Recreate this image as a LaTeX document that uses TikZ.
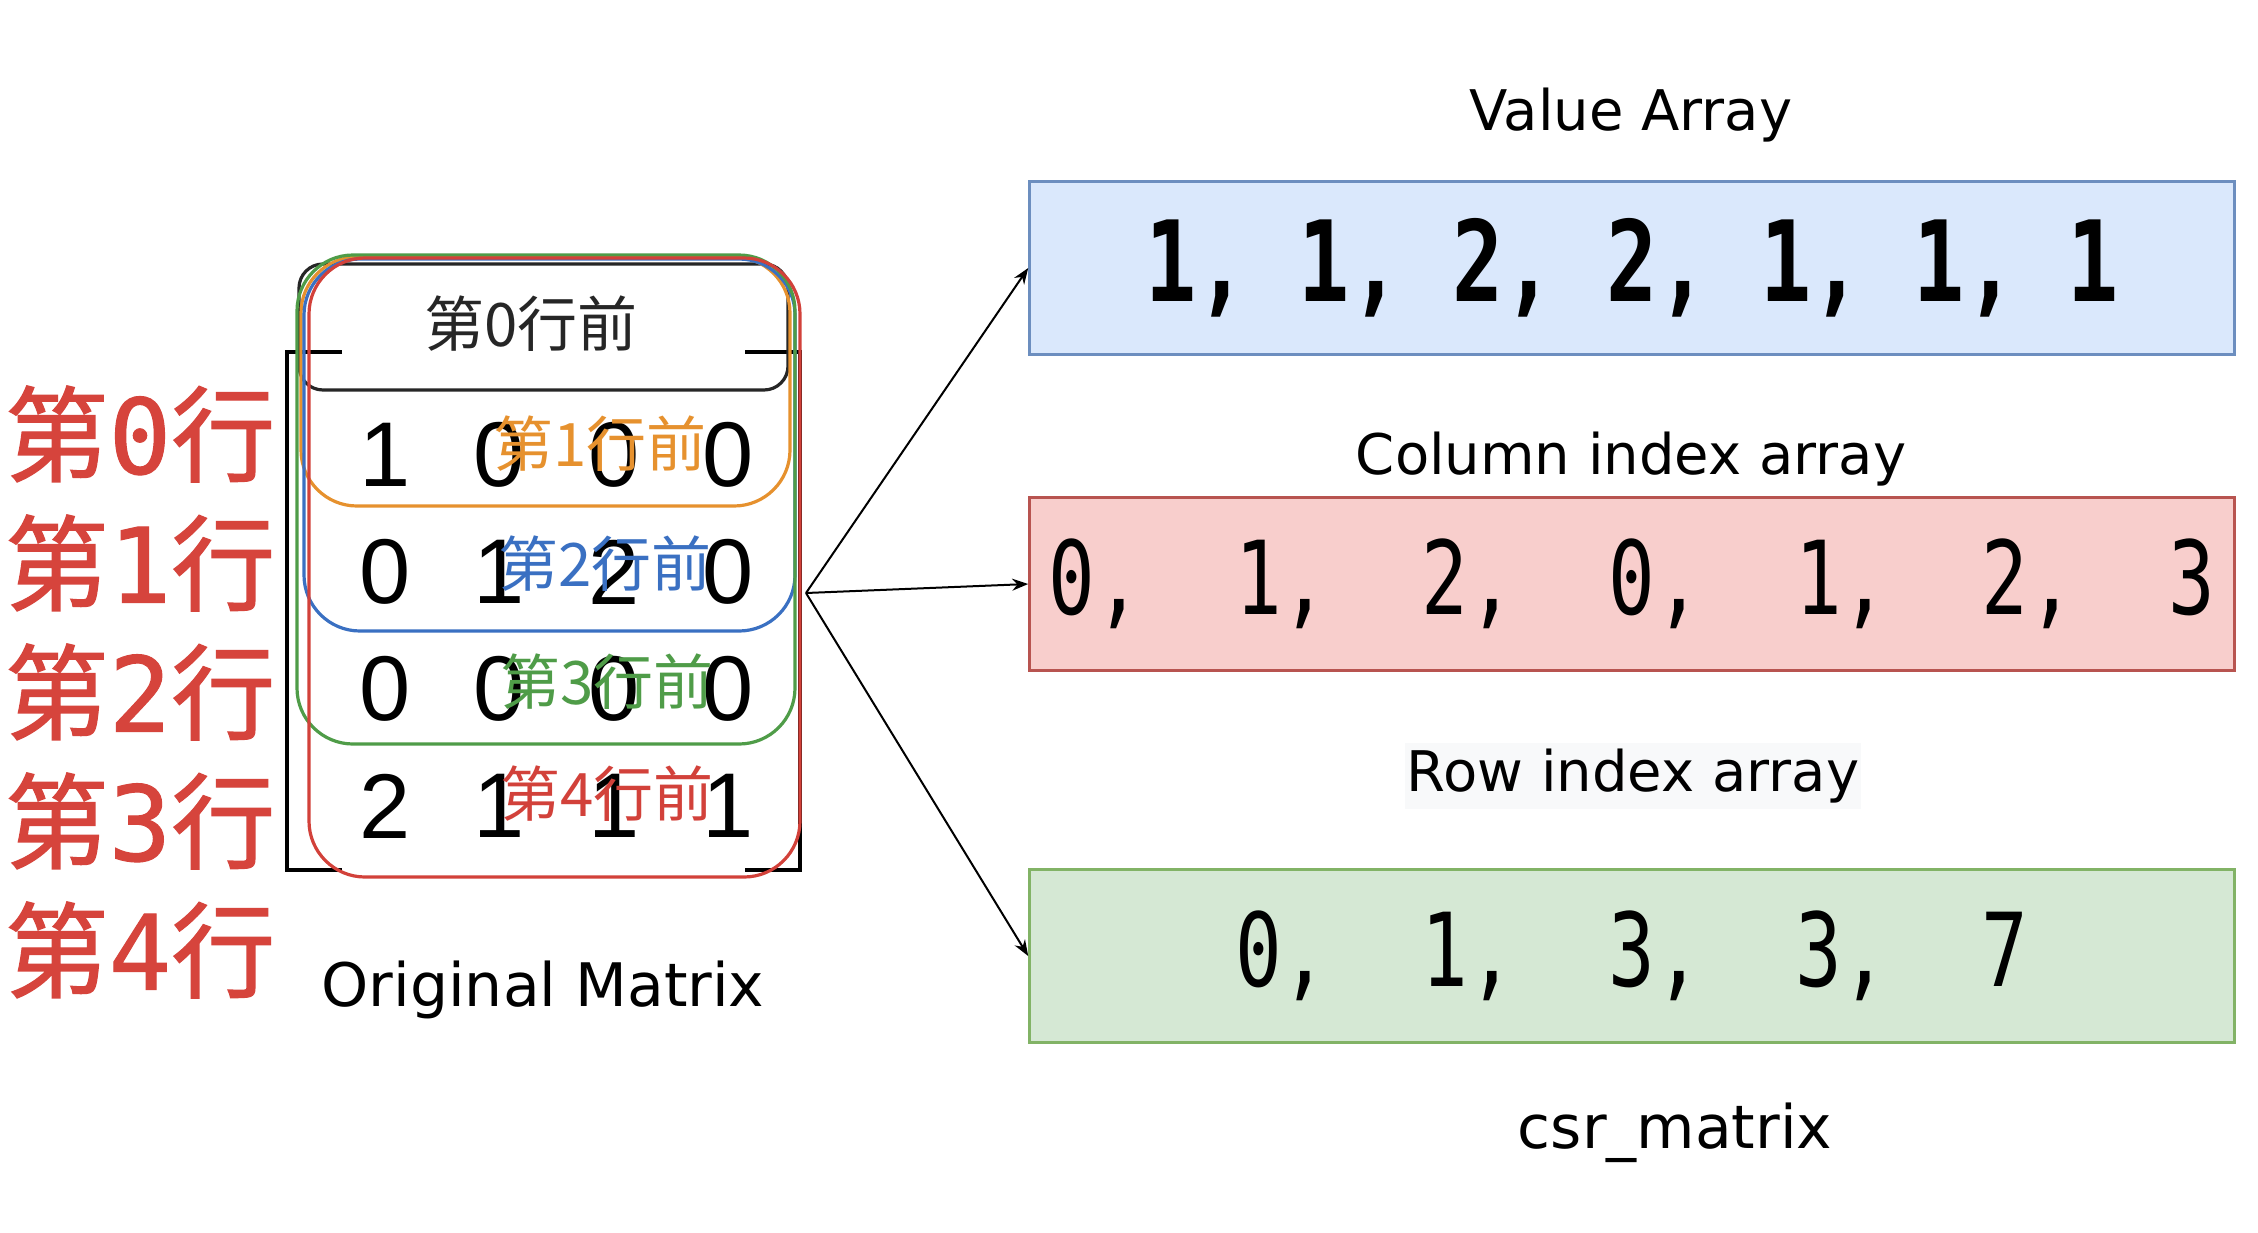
\documentclass[tikz,border=0pt]{standalone}
\usepackage{fontspec}
\setmainfont{DejaVu Sans}
\newfontfamily\cjkfont{Noto Sans CJK SC}
\newfontfamily\cjkmid[FakeBold=1.2]{Noto Sans CJK SC}
\newfontfamily\rowdigit[FakeBold=1]{DejaVu Sans Mono}
\newfontfamily\matfont{Liberation Sans}
\newfontfamily\arrfont[FakeStretch=0.76]{DejaVu Sans Mono}
\usetikzlibrary{arrows.meta}

\definecolor{rowred}{HTML}{D6443C}
\definecolor{preorange}{HTML}{E6912E}
\definecolor{preblue}{HTML}{3A70C2}
\definecolor{pregreen}{HTML}{4F9C48}
\definecolor{prered}{HTML}{D2413A}
\definecolor{valfill}{HTML}{DAE8FC}
\definecolor{valdraw}{HTML}{6C8EBF}
\definecolor{colfill}{HTML}{F8CECC}
\definecolor{coldraw}{HTML}{B85450}
\definecolor{rowfill}{HTML}{D5E8D4}
\definecolor{rowdraw}{HTML}{82B366}

\begin{document}
\begin{tikzpicture}[x=0.5pt,y=-0.5pt,>={Stealth[length=8pt,width=6pt]}]
  \tikzstyle{every node}=[inner sep=0pt]
  \tikzstyle{caption}=[font=\fontsize{28}{34}\selectfont]
  \tikzstyle{arraybox}=[draw,line width=1.3pt,minimum width=602.5pt,minimum height=86.5pt]
  \tikzstyle{rowlabel}=[text=rowred,font=\cjkmid\fontsize{52}{60}\selectfont]
  \tikzstyle{prelabel}=[font=\cjkfont\fontsize{30}{36}\selectfont]
  \tikzstyle{entry}=[font=\matfont\fontsize{46}{52}\selectfont]
  \tikzstyle{rowbox}=[line width=1.6pt,rounded corners=28pt]

  \path[use as bounding box,fill=white] (0,0) rectangle (2258,1232);

  % row labels on the left
  \foreach \i in {0,...,4}
    \node[rowlabel] (lab\i) at (140,{434+129*\i}) {第{\rowdigit\i}行};

  % matrix brackets
  \draw[line width=2pt] (342,352) -- (287,352) -- (287,870) -- (342,870);
  \draw[line width=2pt] (745,352) -- (800,352) -- (800,870) -- (745,870);

  % matrix entries
  \foreach \vals [count=\r from 0] in {{1,0,0,0},{0,1,2,0},{0,0,0,0},{2,1,1,1}}
    \foreach \v [count=\c from 0] in \vals
      \node[entry] (m\r\c) at ({385+114.5*\c},{455+117*\r}) {\v};

  % row pointer boxes
  \draw[rowbox,black!85,rounded corners=12pt] (299,264) rectangle (788,390);
  \draw[rowbox,preorange] (301,257) rectangle (790,506);
  \draw[rowbox,preblue]   (304,259) rectangle (795,631);
  \draw[rowbox,pregreen]  (297,255) rectangle (795,744);
  \draw[rowbox,prered]    (309,258) rectangle (800,877);

  \node[prelabel,text=black!85] (pre0) at (531,324) {第0行前};
  \node[prelabel,text=preorange] (pre1) at (600,444) {第1行前};
  \node[prelabel,text=preblue]   (pre2) at (605,564) {第2行前};
  \node[prelabel,text=pregreen]  (pre3) at (607,682) {第3行前};
  \node[prelabel,text=prered]    (pre4) at (607,794) {第4行前};

  \node[caption,font=\fontsize{30}{36}\selectfont] (orig) at (543,990) {Original Matrix};

  % csr arrays
  \node[arraybox,fill=valfill,draw=valdraw,font=\arrfont\bfseries\fontsize{56}{64}\selectfont]
    (val) at (1632,268) {\raisebox{-4pt}{1, 1, 2, 2, 1, 1, 1}};
  \node[arraybox,fill=colfill,draw=coldraw,font=\arrfont\fontsize{51}{60}\selectfont]
    (col) at (1632,584) {0,~~1,~~2,~~0,~~1,~~2,~~3};
  \node[arraybox,fill=rowfill,draw=rowdraw,font=\arrfont\fontsize{51}{60}\selectfont]
    (row) at (1632,956) {0,~~1,~~3,~~3,~~7};

  \node[caption] (valcap) at (1631,115) {Value Array};
  \node[caption] (colcap) at (1631,459) {Column index array};
  \node[caption,fill={rgb,255:red,248;green,249;blue,250},inner xsep=1pt,inner ysep=3pt]
    (rowcap) at (1633,776) {Row index array};
  \node[caption,font=\fontsize{30}{36}\selectfont] (csr) at (1675,1133) {csr\_matrix};

  \coordinate (src) at (806,593);
  \path[->,line width=1pt]
  (src) edge (val.west)
  (src) edge (col.west)
  (src) edge (row.west)
  ;
\end{tikzpicture}
\end{document}
